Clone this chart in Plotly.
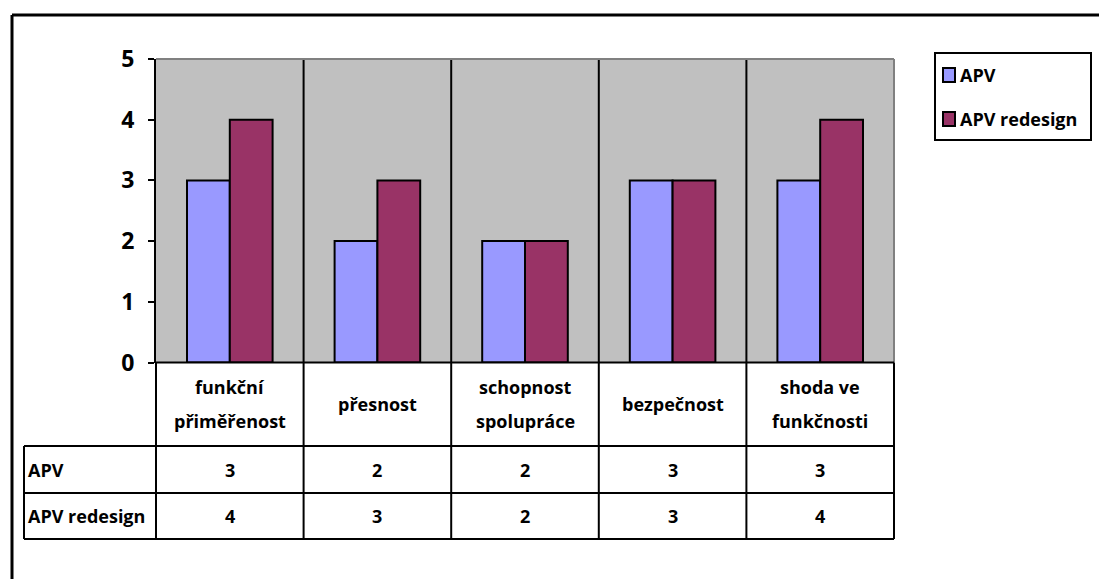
import plotly.graph_objects as go

# Data
categories = ["funkční přiměřenost", "přesnost", "schopnost spolupráce", "bezpečnost", "shoda ve funkčnosti"]
category_lines = [["funkční", "přiměřenost"], ["přesnost"], ["schopnost", "spolupráce"], ["bezpečnost"], ["shoda ve", "funkčnosti"]]
series_names = ["APV", "APV redesign"]
apv = [3, 2, 2, 3, 3]
apv_redesign = [4, 3, 2, 3, 4]
y_ticks = [0, 1, 2, 3, 4, 5]

colors = ["#9999FF", "#993366"]
W, H = 1099, 579
FONT = "Open Sans"


def px_x(p):
    return p / W


def px_y(p):
    return 1 - p / H


plot_left, plot_right, plot_top, plot_bottom = 156, 894, 59, 362.5
row1_bottom, row2_bottom, row3_bottom = 446, 493, 539
table_left = 24

fig = go.Figure()
for name, vals, col in zip(series_names, [apv, apv_redesign], colors):
    fig.add_trace(go.Bar(
        x=list(range(len(categories))), y=vals, name=name,
        marker=dict(color=col, line=dict(color="black", width=2)),
        showlegend=False, hoverinfo="skip",
    ))

n = len(categories)
shapes = []
line_k = dict(color="black", width=2)

# category divider lines through plot area and table
for i in range(n - 1):
    shapes.append(dict(type="line", xref="x", yref="paper", x0=i + 0.5, x1=i + 0.5,
                       y0=px_y(row3_bottom), y1=px_y(plot_top), line=line_k, layer="above"))
# plot area top/right edges (gray)
shapes.append(dict(type="line", xref="paper", yref="paper", x0=px_x(plot_left), x1=px_x(plot_right),
                   y0=px_y(plot_top), y1=px_y(plot_top), line=dict(color="#808080", width=2)))
shapes.append(dict(type="line", xref="paper", yref="paper", x0=px_x(plot_right), x1=px_x(plot_right),
                   y0=px_y(plot_top), y1=px_y(plot_bottom), line=dict(color="#808080", width=2)))
# table horizontals
shapes.append(dict(type="line", xref="paper", yref="paper", x0=px_x(plot_left), x1=px_x(plot_right),
                   y0=px_y(plot_bottom), y1=px_y(plot_bottom), line=line_k))
for yy in [row1_bottom, row2_bottom, row3_bottom]:
    shapes.append(dict(type="line", xref="paper", yref="paper", x0=px_x(table_left), x1=px_x(plot_right),
                       y0=px_y(yy), y1=px_y(yy), line=line_k))
# table verticals
shapes.append(dict(type="line", xref="paper", yref="paper", x0=px_x(table_left), x1=px_x(table_left),
                   y0=px_y(row1_bottom), y1=px_y(row3_bottom), line=line_k))
shapes.append(dict(type="line", xref="paper", yref="paper", x0=px_x(plot_left), x1=px_x(plot_left),
                   y0=px_y(plot_bottom), y1=px_y(row3_bottom), line=line_k))
shapes.append(dict(type="line", xref="paper", yref="paper", x0=px_x(plot_right), x1=px_x(plot_right),
                   y0=px_y(plot_bottom), y1=px_y(row3_bottom), line=line_k))
# outer chart frame (left and top edges)
shapes.append(dict(type="line", xref="paper", yref="paper", x0=px_x(12), x1=px_x(12),
                   y0=0, y1=px_y(15), line=dict(color="black", width=3)))
shapes.append(dict(type="line", xref="paper", yref="paper", x0=px_x(12), x1=1,
                   y0=px_y(15), y1=px_y(15), line=dict(color="black", width=3)))

annotations = []
tfont = dict(family=FONT, size=18, color="black", weight="bold")
# category header cells
header_mid = (plot_bottom + row1_bottom) / 2
line_gap = 34
for i, lines in enumerate(category_lines):
    k = len(lines)
    for j, txt in enumerate(lines):
        yy = header_mid + (j - (k - 1) / 2) * line_gap
        annotations.append(dict(x=i, y=px_y(yy), xref="x", yref="paper", text=txt, showarrow=False,
                                xanchor="center", yanchor="middle", font=tfont))
# value rows
for vals, name, top, bot in [(apv, series_names[0], row1_bottom, row2_bottom),
                             (apv_redesign, series_names[1], row2_bottom, row3_bottom)]:
    mid = (top + bot) / 2
    annotations.append(dict(x=px_x(table_left + 2), y=px_y(mid), xref="paper", yref="paper", text=name,
                            showarrow=False, xanchor="left", yanchor="middle", font=tfont))
    for i, v in enumerate(vals):
        annotations.append(dict(x=i, y=px_y(mid), xref="x", yref="paper", text=str(v), showarrow=False,
                                xanchor="center", yanchor="middle", font=tfont))

# legend box
shapes.append(dict(type="rect", xref="paper", yref="paper", x0=px_x(935), x1=px_x(1091),
                   y0=px_y(140), y1=px_y(53), line=line_k, fillcolor="white"))
for name, col, cy in zip(series_names, colors, [75, 119]):
    shapes.append(dict(type="rect", xref="paper", yref="paper", x0=px_x(943), x1=px_x(955),
                       y0=px_y(cy + 7), y1=px_y(cy - 7), line=line_k, fillcolor=col))
    annotations.append(dict(x=px_x(958), y=px_y(cy), xref="paper", yref="paper", text=name,
                            showarrow=False, xanchor="left", yanchor="middle", font=tfont))

fig.update_layout(
    width=W, height=H, margin=dict(l=0, r=0, t=0, b=0, pad=0, autoexpand=False),
    paper_bgcolor="white", plot_bgcolor="#C0C0C0",
    barmode="group", bargap=0.42, bargroupgap=0,
    font=dict(family=FONT, color="black"),
    xaxis=dict(domain=[px_x(plot_left), px_x(plot_right)], range=[-0.5, n - 0.5],
               showticklabels=False, showgrid=False, zeroline=False, showline=False, ticks=""),
    yaxis=dict(domain=[px_y(plot_bottom), px_y(plot_top)], range=[0, 5], tickvals=y_ticks,
               showgrid=False, zeroline=False, showline=True, linecolor="black", linewidth=2,
               ticks="outside", ticklen=6, tickwidth=2, tickcolor="black", ticklabelstandoff=9,
               tickfont=dict(family=FONT, size=23, color="black", weight="bold")),
    shapes=shapes, annotations=annotations,
)

fig.write_html("out.html")
